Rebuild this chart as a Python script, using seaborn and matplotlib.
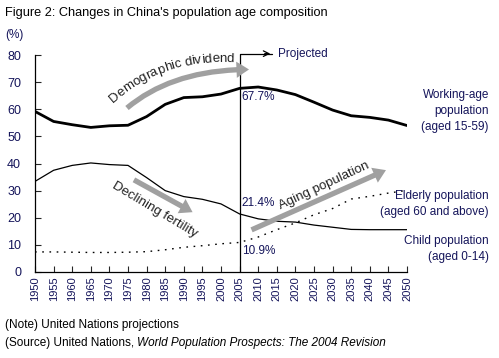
import numpy as np
import matplotlib
matplotlib.use("Agg")
import matplotlib.pyplot as plt
from matplotlib.patches import FancyArrowPatch
from matplotlib.path import Path
from matplotlib.transforms import Affine2D
from matplotlib.font_manager import FontProperties
from matplotlib.textpath import TextToPath
import seaborn as sns

years = list(range(1950, 2051, 5))
working_age = [59.2, 55.5, 54.3, 53.3, 53.9, 54.1, 57.3, 61.8, 64.3, 64.6, 65.6, 67.7,
               68.2, 67.1, 65.4, 62.6, 59.7, 57.6, 57.0, 56.0, 54.0]
child = [33.4, 37.5, 39.3, 40.2, 39.6, 39.3, 34.8, 30.0, 27.8, 26.8, 25.1, 21.4,
         19.6, 18.7, 18.4, 17.3, 16.5, 15.7, 15.6, 15.6, 15.6]
elderly = [7.4, 7.4, 7.3, 7.2, 7.2, 7.3, 7.5, 8.2, 9.1, 9.7, 10.4, 10.9,
           12.9, 15.6, 18.1, 21.1, 23.4, 26.9, 27.9, 29.1, 30.1]
xtick_labels = [str(y) for y in years]

navy = "#14145a"
grey = "#a0a0a0"
W, H = 499, 358

sns.set_style("white")
plt.rcParams["font.family"] = ["Liberation Sans", "DejaVu Sans"]

fig = plt.figure(figsize=(W / 100, H / 100), dpi=100)
ax = fig.add_axes([35 / W, 86 / H, 372 / W, 217 / H])
# pixel coordinates measured from the top-left corner of the image
pix = Affine2D().scale(1 / W, -1 / H).translate(0, 1) + fig.transFigure

sns.lineplot(x=years, y=working_age, ax=ax, color="black", linewidth=2.0)
sns.lineplot(x=years, y=child, ax=ax, color="black", linewidth=0.9)
sns.lineplot(x=years, y=elderly, ax=ax, color="black", linewidth=1.0)
ax.lines[-1].set_dashes((1.2, 4))

ax.set_xlim(1950, 2050)
ax.set_ylim(0, 80)
ax.set_xticks(years)
ax.set_xticklabels(xtick_labels, rotation=90, fontsize=8, color=navy)
ax.set_yticks(range(0, 81, 10))
ax.tick_params(axis="y", labelsize=9, labelcolor=navy, direction="in", length=4,
               width=0.8, left=True, pad=10)
ax.tick_params(axis="x", direction="in", length=4, width=0.8, bottom=True, pad=3)
for s in ["top", "right"]:
    ax.spines[s].set_visible(False)
for s in ["left", "bottom"]:
    ax.spines[s].set_color("black")
    ax.spines[s].set_linewidth(0.9)

# projection divider
ax.plot([2005, 2005, 2013.6], [0, 80.5, 80.5], color="black", lw=0.9, clip_on=False)
ax.annotate("", xy=(2014, 80.5), xytext=(2011, 80.5),
            arrowprops=dict(arrowstyle="->", color="black", lw=0.9), annotation_clip=False)
ax.text(2015.3, 80.5, "Projected", fontsize=8.5, color=navy, va="center")

# value labels
ax.text(2005.6, 66.6, "67.7%", fontsize=8.5, color=navy, va="top")
ax.text(2005.6, 25.3, "21.4%", fontsize=8.5, color=navy, va="center")
ax.text(2005.6, 7.9, "10.9%", fontsize=8.5, color=navy, va="center")

# series labels
lab = dict(fontsize=8.5, color=navy, ha="right", va="center", linespacing=1.45, clip_on=False)
ax.text(2072, 59.2, "Working-age\npopulation\n(aged 15-59)", **lab)
ax.text(2072, 24.9, "Elderly population\n(aged 60 and above)", **lab)
ax.text(2072, 8.6, "Child population\n(aged 0-14)", **lab)

# trend arrows
arr_style = "simple,head_width=2.6,head_length=2.0,tail_width=0.85"
curve = Path([(127, 108), (173, 69.5), (249, 69.5)], [Path.MOVETO, Path.CURVE3, Path.CURVE3])
fig.add_artist(FancyArrowPatch(path=curve, arrowstyle=arr_style, mutation_scale=4.5,
                               color=grey, lw=0, transform=pix))
fig.add_artist(FancyArrowPatch((131.5, 178.5), (195, 213.5), arrowstyle=arr_style,
                               mutation_scale=4.5, color=grey, lw=0, transform=pix))
fig.add_artist(FancyArrowPatch((249, 231), (388.5, 169), arrowstyle=arr_style,
                               mutation_scale=4.5, color=grey, lw=0, transform=pix))


def curved_text(text, p0, p1, p2, size, color):
    p0, p1, p2 = map(np.asarray, (p0, p1, p2))
    t = np.linspace(0, 1, 600)[:, None]
    pts = (1 - t) ** 2 * p0 + 2 * (1 - t) * t * p1 + t ** 2 * p2
    seg = np.hypot(*np.diff(pts, axis=0).T)
    arc = np.concatenate([[0], np.cumsum(seg)])
    prop = FontProperties(family="Liberation Sans", size=size)
    ttp = TextToPath()

    def width(s):
        return ttp.get_text_width_height_descent(s, prop, ismath=False)[0] * 100 / 72

    bar = width("|")
    for i, ch in enumerate(text):
        if ch == " ":
            continue
        c = (width(text[:i] + "|") + width(text[:i + 1] + "|")) / 2 - bar
        k = min(np.searchsorted(arc, c), len(pts) - 2)
        d = pts[k + 1] - pts[k]
        ang = -np.degrees(np.arctan2(d[1], d[0]))
        fig.text(pts[k][0], pts[k][1], ch, fontproperties=prop, color=color,
                 rotation=ang, ha="center", va="baseline", rotation_mode="anchor",
                 transform=pix)


curved_text("Demographic dividend", (113, 103), (163, 58), (238, 62), 9.5, "#222222")
fig.text(155, 210, "Declining fertility", fontsize=9.5, color="#222222", rotation=-31,
         ha="center", va="center", rotation_mode="anchor", transform=pix)
fig.text(324, 186, "Aging population", fontsize=9.5, color="#222222", rotation=25,
         ha="center", va="center", rotation_mode="anchor", transform=pix)

# titles and notes
fig.text(5, 13, "Figure 2: Changes in China's population age composition",
         fontsize=9.2, color="black", va="center", transform=pix)
fig.text(5, 35, "(%)", fontsize=8.5, color=navy, va="center", transform=pix)
fig.text(5, 325, "(Note) United Nations projections", fontsize=8.5,
         color="black", va="center", transform=pix)
src = fig.text(5, 343, "(Source) United Nations, ", fontsize=8.5,
               color="black", va="center", transform=pix)
ax.annotate("World Population Prospects: The 2004 Revision", xy=(1, 0.5), xycoords=src,
            fontsize=8.5, style="italic", color="black", va="center", ha="left")

fig.savefig("out.png", dpi=100)
